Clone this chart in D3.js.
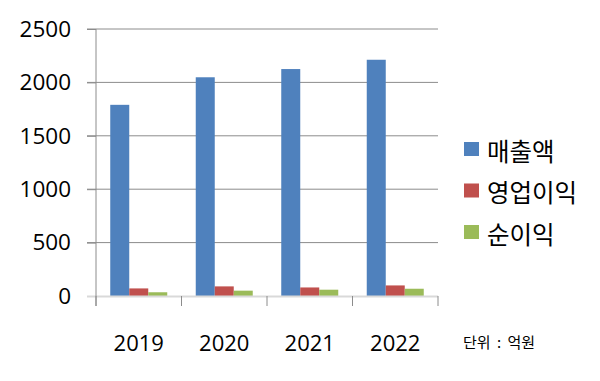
<!DOCTYPE html>
<html><head><meta charset="utf-8">
<script src="https://cdn.jsdelivr.net/npm/d3@7"></script>
<style>body{margin:0;background:#fff}svg{display:block}</style>
</head><body>
<svg id="c" width="600" height="381"></svg>
<script>
const categories = ["2019","2020","2021","2022"];
const seriesNames = ["매출액","영업이익","순이익"];
const sales = [1790, 2048, 2125, 2212];
const operatingProfit = [71, 90, 80, 99];
const netProfit = [35, 50, 59, 68];
const yTicks = [0, 500, 1000, 1500, 2000, 2500];
const colors = ["#4f81bd","#c0504d","#9bbb59"];
const unitLabel = "단위 : 억원";

(function () {
const seriesValues = [sales, operatingProfit, netProfit];
const svg = d3.select("#c");
const pL = 96, pR = 438, pT = 29, pB = 296;
const x = d3.scaleBand().domain(categories).range([pL, pR]).paddingInner(0).paddingOuter(0);
const x1 = d3.scaleBand().domain(d3.range(3)).range([0, x.bandwidth()]).paddingInner(0).paddingOuter(0.75);
const y = d3.scaleLinear().domain([0, 2500]).range([pB, pT]);

svg.append("g").selectAll("line").data(yTicks.filter(d => d > 0)).join("line")
  .attr("x1", pL - 9).attr("x2", pR).attr("y1", d => y(d)).attr("y2", d => y(d))
  .attr("stroke", "#8c8c8c").attr("stroke-width", 1);

const ya = svg.append("g").attr("transform", `translate(${pL},0)`)
  .call(d3.axisLeft(y).tickValues(yTicks).tickSize(9).tickPadding(16).tickFormat(d3.format("d")));
ya.select(".domain").remove();
ya.selectAll(".tick line").attr("stroke", "#8c8c8c");
ya.selectAll("text").attr("font-family", "'Open Sans', sans-serif").attr("font-size", 22.5).attr("fill", "#000");

const groups = svg.append("g").selectAll("g").data(categories).join("g")
  .attr("transform", d => `translate(${x(d)},0)`);
groups.selectAll("rect").data((d, i) => seriesValues.map((s, j) => ({j, v: s[i]}))).join("rect")
  .attr("x", d => x1(d.j)).attr("width", x1.bandwidth())
  .attr("y", d => y(d.v)).attr("height", d => pB - y(d.v))
  .attr("fill", d => colors[d.j]);

svg.append("line").attr("x1", pL - 9).attr("x2", pR).attr("y1", pB + 0.5).attr("y2", pB + 0.5)
  .attr("stroke", "#d9d9d9").attr("stroke-width", 2);
const bounds = categories.map(c => x(c)).concat([pR]);
svg.append("g").selectAll("line").data(bounds).join("line")
  .attr("x1", d => d).attr("x2", d => d).attr("y1", pB).attr("y2", pB + 10)
  .attr("stroke", "#8c8c8c");
svg.append("line").attr("x1", pL).attr("x2", pL).attr("y1", pT).attr("y2", pB + 10).attr("stroke", "#8c8c8c");
svg.append("g").selectAll("text").data(categories).join("text")
  .attr("x", d => x(d) + x.bandwidth() / 2).attr("y", 351).attr("text-anchor", "middle")
  .attr("font-family", "'Open Sans', sans-serif").attr("font-size", 22).attr("fill", "#000").text(d => d);

const lg = svg.append("g").selectAll("g").data(seriesNames).join("g")
  .attr("transform", (d, i) => `translate(464,${149 + i * 41.5})`);
lg.append("rect").attr("x", 0).attr("y", -7).attr("width", 15).attr("height", 14).attr("fill", (d, i) => colors[i]);
lg.append("text").attr("x", 23).attr("y", 3).attr("dy", "0.36em")
  .attr("font-family", "'Noto Sans CJK KR', sans-serif").attr("font-size", 24.5).attr("fill", "#000").text(d => d);

svg.append("text").attr("x", 463).attr("y", 343).attr("dy", "0.36em")
  .attr("font-family", "'Noto Sans CJK KR', sans-serif").attr("font-size", 15).attr("word-spacing", 3)
  .attr("fill", "#000").text(unitLabel);
})();
</script>
</body></html>
